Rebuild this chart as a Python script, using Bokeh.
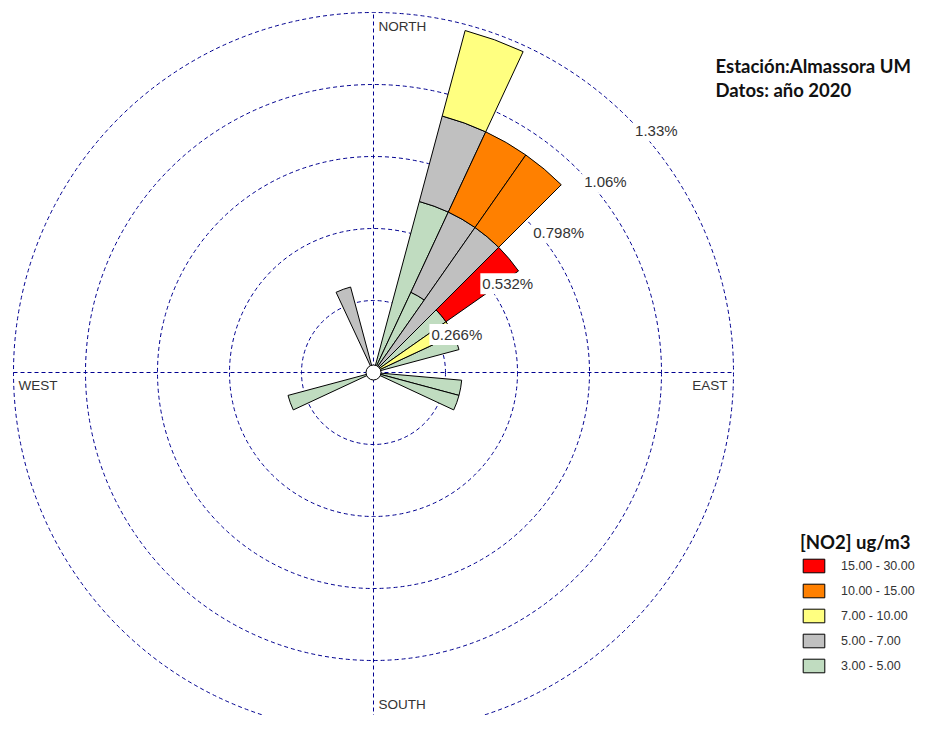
import numpy as np
from bokeh.plotting import figure
from bokeh.models import Range1d, ColumnDataSource, Legend, LegendItem, Label
from bokeh.embed import file_html
from bokeh.resources import INLINE
from bokeh.core.properties import value

# ---------------- data (percent of observations) ----------------
directions = [20, 30, 40, 50, 60, 70, 100, 110, 250, 340]   # sector centres, degrees from north
no2_3_5 = [0.654, 0.327, 0.0, 0.327, 0.0, 0.327, 0.327, 0.327, 0.327, 0.0]
no2_5_7 = [0.327, 0.327, 0.654, 0.0, 0.0, 0.0, 0.0, 0.0, 0.0, 0.327]
no2_7_10 = [0.327, 0.0, 0.0, 0.0, 0.327, 0.0, 0.0, 0.0, 0.0, 0.0]
no2_10_15 = [0.0, 0.327, 0.327, 0.0, 0.0, 0.0, 0.0, 0.0, 0.0, 0.0]
no2_15_30 = [0.0, 0.0, 0.0, 0.327, 0.0, 0.0, 0.0, 0.0, 0.0, 0.0]

class_labels = ["3.00 - 5.00", "5.00 - 7.00", "7.00 - 10.00", "10.00 - 15.00", "15.00 - 30.00"]
class_colors = ["#C0DCC0", "#C0C0C0", "#FFFF80", "#FF8000", "#FF0000"]

ring_values = [0.266, 0.532, 0.798, 1.064, 1.33]
ring_labels = ["0.266%", "0.532%", "0.798%", "1.06%", "1.33%"]

# ---------------- geometry / figure ----------------
W, H = 917, 715
px_per_unit = 72 / 0.266
cx, cy = 373, 372            # centre of the rose in canvas pixels
sector_width = 10
r_max = ring_values[-1]

p = figure(width=W, height=H,
           x_range=Range1d(-cx / px_per_unit, (W - cx) / px_per_unit),
           y_range=Range1d(-(H - cy) / px_per_unit, cy / px_per_unit),
           x_axis_type=None, y_axis_type=None,
           output_backend="svg", toolbar_location=None, min_border=0)
p.grid.visible = False
p.outline_line_color = None
p.background_fill_color = "white"

grid_color = "#000090"
# rings
p.circle(x=0, y=0, radius=ring_values, fill_color=None, line_color=grid_color,
         line_width=1, line_dash="4 3")
# cross-hair
p.segment(x0=[-r_max, 0], y0=[0, -r_max], x1=[r_max, 0], y1=[0, r_max],
          line_color=grid_color, line_width=1, line_dash="4 3")

# ---------------- stacked wedges ----------------
series = [no2_3_5, no2_5_7, no2_7_10, no2_10_15, no2_15_30]
dirs = np.array(directions, dtype=float)
base = np.zeros(len(directions))
renderers = []
for vals, color in zip(series, class_colors):
    vals = np.array(vals, dtype=float)
    m = vals > 0
    src = ColumnDataSource(dict(
        inner=base[m], outer=(base + vals)[m],
        start=np.radians(90 - dirs[m] - sector_width / 2),
        end=np.radians(90 - dirs[m] + sector_width / 2)))
    r = p.annular_wedge(x=0, y=0, inner_radius="inner", outer_radius="outer",
                        start_angle="start", end_angle="end", source=src,
                        fill_color=color, line_color="black", line_width=1)
    renderers.append(r)
    base = base + vals

# centre hole
p.scatter(x=[0], y=[0], size=15, marker="circle", fill_color="white",
          line_color="black", line_width=1)

# ---------------- ring labels ----------------
ang = np.radians(45)
p.text(x=[v * np.sin(ang) for v in ring_values], y=[v * np.cos(ang) for v in ring_values],
       text=ring_labels, x_offset=5, y_offset=13,
       text_font=value("Liberation Sans"), text_font_size="15px", text_color="#333333",
       text_align="left", text_baseline="middle",
       background_fill_color="white", padding=2)

# ---------------- compass labels ----------------
cfont = value("Liberation Sans")
p.text(x=[0], y=[r_max], text=["NORTH"], x_offset=5, y_offset=6, text_font=cfont,
       text_font_size="13.5px", text_color="#333333", text_align="left", text_baseline="top")
p.text(x=[-r_max], y=[0], text=["WEST"], x_offset=5, y_offset=5, text_font=cfont,
       text_font_size="13.5px", text_color="#333333", text_align="left", text_baseline="top")
p.text(x=[r_max], y=[0], text=["EAST"], x_offset=-6, y_offset=5, text_font=cfont,
       text_font_size="13.5px", text_color="#333333", text_align="right", text_baseline="top")
p.add_layout(Label(x=0, y=4, x_units="data", y_units="screen", x_offset=5, text="SOUTH",
                   text_font="Liberation Sans", text_font_size="13.5px", text_color="#333333",
                   text_align="left", text_baseline="bottom"))

# ---------------- station title ----------------
for txt, ypos in [("Estación:Almassora UM", H - 65), ("Datos: año 2020", H - 89)]:
    p.add_layout(Label(x=715, y=ypos, x_units="screen", y_units="screen", text=txt,
                       text_font="Lato", text_font_style="bold", text_font_size="18.5px",
                       text_color="#111111", text_baseline="alphabetic"))

# ---------------- legend ----------------
items = [LegendItem(label=lab, renderers=[rr])
         for lab, rr in zip(class_labels[::-1], renderers[::-1])]
legend = Legend(items=items, location=(800, H - 674), title="[NO2] ug/m3",
                title_text_font="Lato", title_text_font_style="bold",
                title_text_font_size="18.5px", title_text_color="#111111", title_standoff=4,
                label_text_font="Liberation Sans", label_text_font_size="12.5px",
                label_text_color="#333333", label_standoff=14, label_height=17,
                glyph_width=27, glyph_height=17, spacing=8, padding=0, margin=0,
                border_line_alpha=0, background_fill_alpha=0)
p.add_layout(legend, "center")

open("out.html", "w").write(file_html(p, INLINE))
